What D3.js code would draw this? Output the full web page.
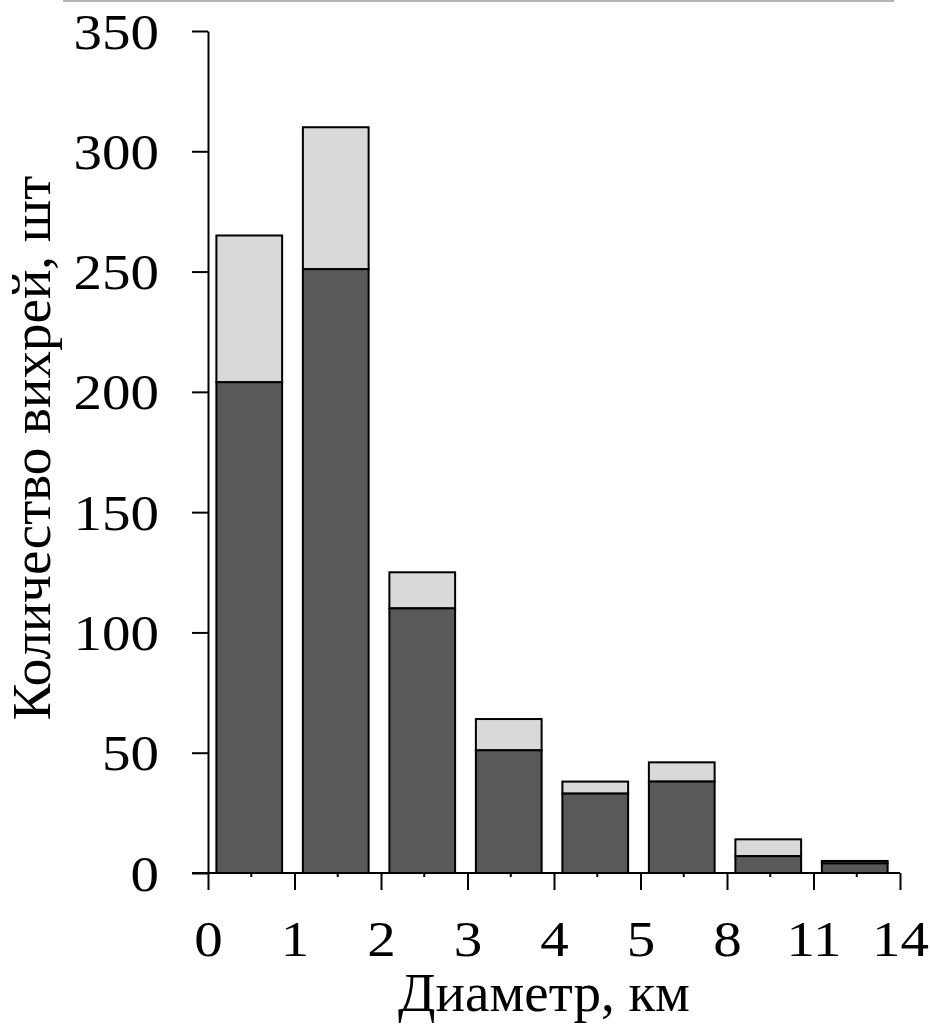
<!DOCTYPE html>
<html>
<head>
<meta charset="utf-8">
<script src="https://cdn.jsdelivr.net/npm/d3@7"></script>
<style>
  body { margin: 0; background: #fff; }
  text { font-family: "Liberation Serif", "Times New Roman", serif; fill: #000; }
</style>
</head>
<body>
<script>
// bins of vortex diameter, km
var bins = ["0-1", "1-2", "2-3", "3-4", "4-5", "5-8", "8-11", "11-14"];
var edgeLabels = ["0", "1", "2", "3", "4", "5", "8", "11", "14"];
// lower (dark) part and total height of each bar
var darkValues = [204, 251, 110, 51, 33, 38, 7, 4];
var totalValues = [265, 310, 125, 64, 38, 46, 14, 5];
var yTicks = [0, 50, 100, 150, 200, 250, 300, 350];

var width = 930,
    height = 1024;
var stretch = 1.14; // tick digits are wider in the original

var svg = d3.select("body").append("svg")
    .attr("width", width)
    .attr("height", height);

// thin grey rule at the very top of the picture
svg.append("line")
    .attr("x1", 63).attr("x2", 894)
    .attr("y1", 1).attr("y2", 1)
    .attr("stroke", "#b4b4b4")
    .attr("stroke-width", 2);

var x = d3.scaleBand()
    .domain(bins)
    .range([208, 900])
    .paddingInner(0.24)
    .paddingOuter(0.12);

var xEdge = d3.scalePoint()
    .domain(edgeLabels)
    .range([208, 900]);

var y = d3.scaleLinear()
    .domain([0, 350])
    .range([873, 31]);

// bars: dark bottom + light top
var bar = svg.append("g").selectAll("g")
    .data(bins)
  .enter().append("g");

bar.append("rect")
    .attr("x", function(d) { return x(d) - 2; })
    .attr("width", x.bandwidth())
    .attr("y", function(d, i) { return y(totalValues[i]); })
    .attr("height", function(d, i) { return y(darkValues[i]) - y(totalValues[i]); })
    .attr("fill", "#d9d9d9")
    .attr("stroke", "#000")
    .attr("stroke-width", 2);

bar.append("rect")
    .attr("x", function(d) { return x(d) - 2; })
    .attr("width", x.bandwidth())
    .attr("y", function(d, i) { return y(darkValues[i]); })
    .attr("height", function(d, i) { return y(0) - y(darkValues[i]); })
    .attr("fill", "#595959")
    .attr("stroke", "#000")
    .attr("stroke-width", 2);

// y axis
var yAxis = svg.append("g")
    .attr("transform", "translate(208,0)")
    .call(d3.axisLeft(y).tickValues(yTicks).tickSize(16).tickSizeOuter(0));
yAxis.select(".domain").attr("stroke-width", 2);
yAxis.selectAll(".tick line").attr("stroke-width", 2);
yAxis.selectAll("text")
    .attr("font-size", 50)
    .attr("x", -49 / stretch)
    .attr("dy", "0.34em")
    .attr("transform", "scale(" + stretch + ",1)");

// x axis: edges of the bins
var xAxis = svg.append("g")
    .attr("transform", "translate(0,873)")
    .call(d3.axisBottom(xEdge).tickSize(17).tickSizeOuter(0));
xAxis.select(".domain").remove();
xAxis.selectAll(".tick line").attr("stroke-width", 2);
xAxis.selectAll("text")
    .attr("font-size", 50)
    .attr("y", 83)
    .attr("dy", 0)
    .attr("transform", "scale(" + stretch + ",1)");

svg.append("line")
    .attr("x1", 192).attr("x2", 900)
    .attr("y1", 873).attr("y2", 873)
    .attr("stroke", "#000")
    .attr("stroke-width", 2);

// small ticks at bin centres
svg.append("g").selectAll("line")
    .data(bins)
  .enter().append("line")
    .attr("x1", function(d) { return x(d) + x.bandwidth() / 2; })
    .attr("x2", function(d) { return x(d) + x.bandwidth() / 2; })
    .attr("y1", 873).attr("y2", 877)
    .attr("stroke", "#000")
    .attr("stroke-width", 2);

// axis titles
svg.append("text")
    .attr("x", 544)
    .attr("y", 1011)
    .attr("text-anchor", "middle")
    .attr("font-size", 55)
    .text("Диаметр, км");

svg.append("text")
    .attr("transform", "translate(50,448) rotate(-90)")
    .attr("text-anchor", "middle")
    .attr("font-size", 55)
    .text("Количество вихрей, шт");
</script>
</body>
</html>
